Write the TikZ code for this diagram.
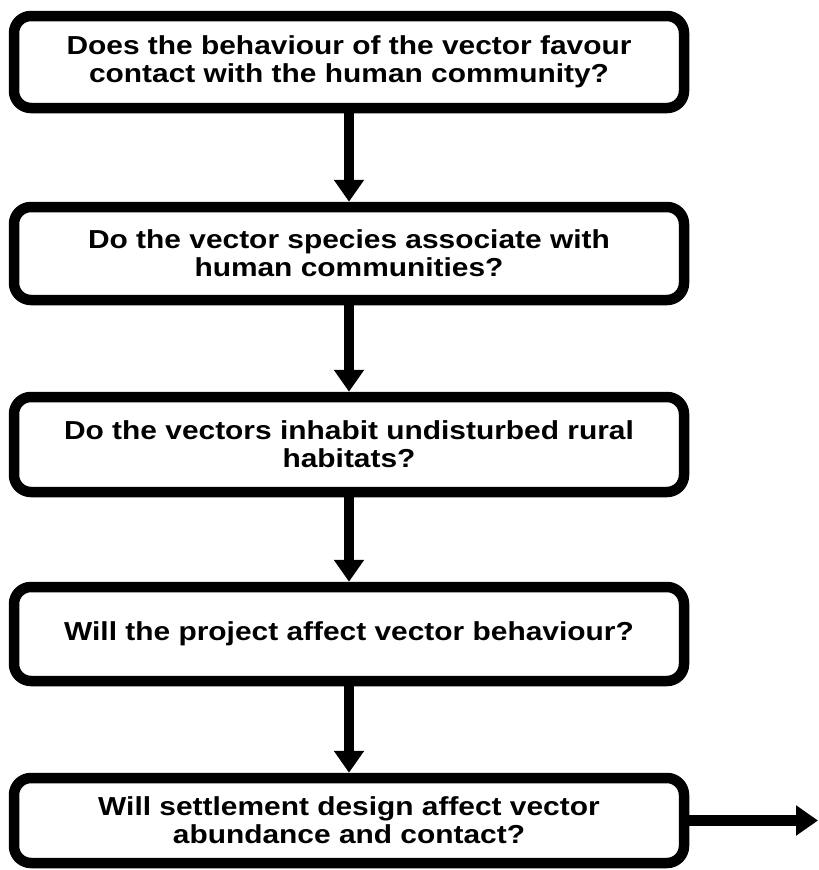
\documentclass[tikz,border=0pt]{standalone}
\usepackage{fontspec}
\setmainfont{Liberation Sans}[FakeStretch=1.15]
\usetikzlibrary{arrows.meta}

\tikzset{
  qbox/.style={draw, line width=10.5pt, rounded corners=17pt,
    minimum width=670pt, align=center, inner sep=0pt,
    font=\fontsize{26}{28}\selectfont\bfseries},
  flow/.style={line width=10.5pt, -{Triangle[width=29pt,length=22pt]}}
}

\begin{document}
\begin{tikzpicture}[x=1pt,y=-1pt]
  \useasboundingbox (0,0) rectangle (819,870);

  % question boxes, top to bottom
  \node[qbox, minimum height=92pt] (b1) at (349,62)
    {Does the behaviour of the vector favour\\contact with the human community?};
  \node[qbox, minimum height=93pt] (b2) at (349,253.5)
    {Do the vector species associate with\\human communities?};
  \node[qbox, minimum height=95pt] (b3) at (349,444.5)
    {Do the vectors inhabit undisturbed rural\\habitats?};
  \node[qbox, minimum height=94pt] (b4) at (349,634)
    {Will the project affect vector behaviour?};
  \node[qbox, minimum height=85pt] (b5) at (349,820.5)
    {Will settlement design affect vector\\abundance and contact?};

  % outgoing arrow end
  \coordinate (out) at (818,820.5);

  % connectors
  \draw[flow] (b1.south) -- (b2.north);
  \draw[flow] (b2.south) -- (b3.north);
  \draw[flow] (b3.south) -- (b4.north);
  \draw[flow] (b4.south) -- (b5.north);
  \draw[flow] (b5.east) -- (out);
\end{tikzpicture}
\end{document}
